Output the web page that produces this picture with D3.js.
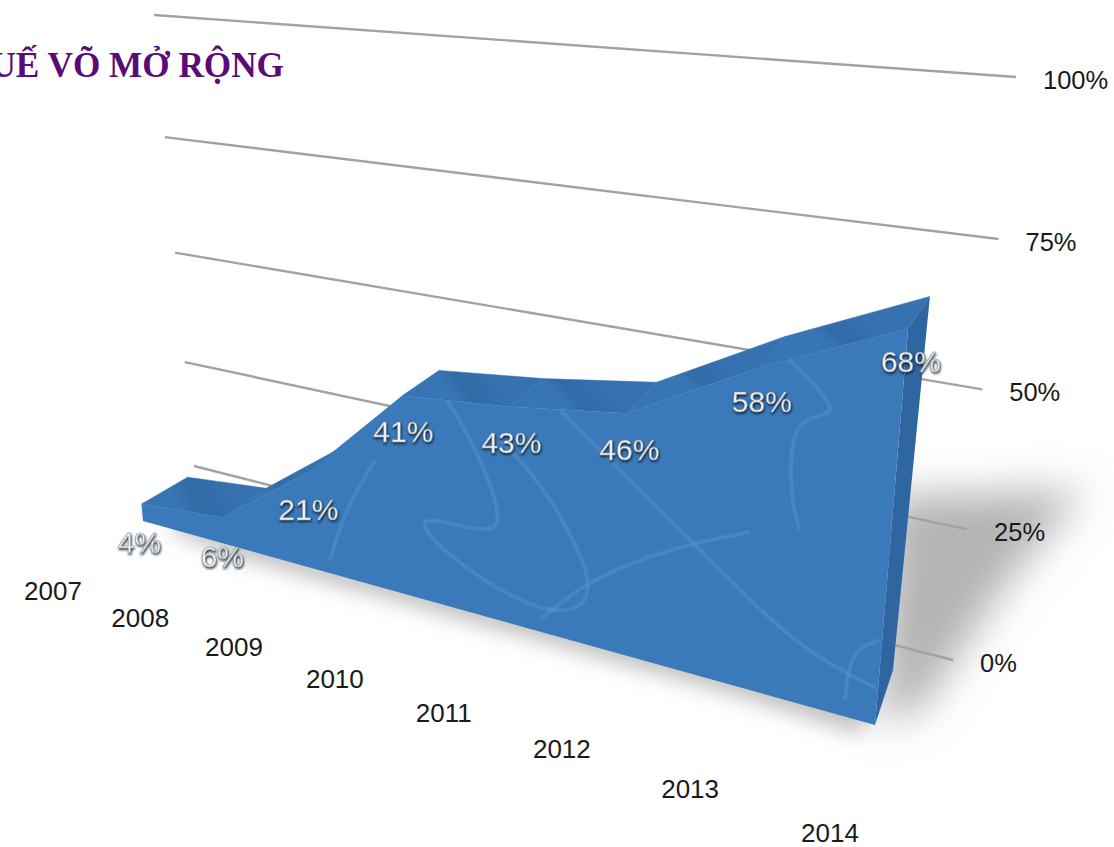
<!DOCTYPE html>
<html lang="vi">
<head>
<meta charset="utf-8">
<script src="https://cdn.jsdelivr.net/npm/d3@7"></script>
<style>
  html, body { margin: 0; padding: 0; background: #fff; overflow: hidden; }
  svg { display: block; }
  text { font-family: "Liberation Sans", Arial, sans-serif; }
</style>
</head>
<body>
<svg id="chart" width="1114" height="847"></svg>
<script>
// Chart data
const years = ["2007", "2008", "2009", "2010", "2011", "2012", "2013", "2014"];
const shares = [4, 6, 21, 41, 43, 46, 58, 68];
const gridTicks = [0, 25, 50, 75, 100];
const chartTitle = "THUẾ VÕ MỞ RỘNG";

// Corners of each perspective plane: bottom-left, bottom-right, top-right, top-left
const frontPlane = [[143, 521], [875, 725], [926, 114], [100, 51]];
const backPlane = [[189, 493], [893, 670], [950, 93], [150, 53]];
const gridPlane = [[194, 466], [953, 660], [1016, 77], [154, 15]];

// Unit-square to quadrilateral projective mapping
function homography([p0, p1, p2, p3]) {
  const dx1 = p1[0] - p2[0], dx2 = p3[0] - p2[0], sx = p0[0] - p1[0] + p2[0] - p3[0];
  const dy1 = p1[1] - p2[1], dy2 = p3[1] - p2[1], sy = p0[1] - p1[1] + p2[1] - p3[1];
  const den = dx1 * dy2 - dx2 * dy1;
  const g = (sx * dy2 - dx2 * sy) / den, h = (dx1 * sy - sx * dy1) / den;
  const a = p1[0] - p0[0] + g * p1[0], b = p3[0] - p0[0] + h * p3[0], c = p0[0];
  const d = p1[1] - p0[1] + g * p1[1], e = p3[1] - p0[1] + h * p3[1], f = p0[1];
  return (u, v) => {
    const w = g * u + h * v + 1;
    return [(a * u + b * v + c) / w, (d * u + e * v + f) / w];
  };
}

const front = homography(frontPlane);
const back = homography(backPlane);
const grid = homography(gridPlane);

const xScale = d3.scalePoint().domain(years).range([0, 1]);
const yScale = d3.scaleLinear().domain([0, 100]).range([0, 1]);

const svg = d3.select("#chart");
const defs = svg.append("defs");
defs.append("filter").attr("id", "softShadow")
  .attr("x", "-40%").attr("y", "-40%").attr("width", "180%").attr("height", "180%")
  .append("feGaussianBlur").attr("stdDeviation", 20);
defs.append("filter").attr("id", "baseShadow")
  .attr("x", "-10%").attr("y", "-40%").attr("width", "120%").attr("height", "180%")
  .append("feGaussianBlur").attr("stdDeviation", 10);
const emboss = defs.append("filter").attr("id", "emboss")
  .attr("x", "-20%").attr("y", "-20%").attr("width", "140%").attr("height", "150%");
emboss.append("feDropShadow").attr("dx", 0.6).attr("dy", 1.6)
  .attr("stdDeviation", 0.8).attr("flood-color", "#0c1520").attr("flood-opacity", 0.95);

const line = d3.line();

// Cast shadow on the floor
const frontBase = years.map(y => front(xScale(y), 0));
svg.append("path")
  .attr("d", line([[890, 495], [1085, 490], [1005, 585], [925, 705], [880, 725]]) + "Z")
  .attr("fill", "#b4b4b4")
  .attr("filter", "url(#softShadow)");
svg.append("path")
  .attr("d", line([[170, 530], ...frontBase.slice(1, -1).map(p => [p[0], p[1] + 10]), [860, 735], [875, 700], [180, 510]]) + "Z")
  .attr("fill", "#c2c2c2")
  .attr("filter", "url(#baseShadow)");

// Gridlines and their percentage labels
const gridGroup = svg.append("g");
gridTicks.forEach(t => {
  const v = yScale(t);
  const a = grid(0, v), b = grid(1, v);
  gridGroup.append("path")
    .attr("d", line([a, b]))
    .attr("stroke", "#a2a2a2").attr("stroke-width", 2.4).attr("fill", "none");
  gridGroup.append("text")
    .attr("x", b[0] + 27).attr("y", b[1] + 12)
    .attr("font-size", 25.5).attr("fill", "#1a1a1a")
    .text(t + "%");
});

// Title, running off the left edge of the page
svg.append("text")
  .attr("x", 284).attr("y", 77)
  .attr("text-anchor", "end")
  .attr("font-size", 35.2).attr("font-weight", 700)
  .attr("fill", "#5a0b78")
  .style("font-family", '"Liberation Serif", serif')
  .text(chartTitle);

// Solid body: top faces first, then the end face, then the front
const frontTop = years.map((y, i) => front(xScale(y), yScale(shares[i])));
const backTop = years.map((y, i) => back(xScale(y), yScale(shares[i])));

const body = svg.append("g");
d3.pairs(d3.range(years.length)).forEach(([i, j]) => {
  // Each face shades from the rear edge towards the front colour
  const midBack = [(backTop[i][0] + backTop[j][0]) / 2, (backTop[i][1] + backTop[j][1]) / 2];
  const midFront = [(frontTop[i][0] + frontTop[j][0]) / 2, (frontTop[i][1] + frontTop[j][1]) / 2];
  const gradient = defs.append("linearGradient").attr("id", `topFace${i}`)
    .attr("gradientUnits", "userSpaceOnUse")
    .attr("x1", midBack[0]).attr("y1", midBack[1])
    .attr("x2", midFront[0]).attr("y2", midFront[1]);
  gradient.append("stop").attr("offset", 0).attr("stop-color", "#3671b0");
  gradient.append("stop").attr("offset", 0.65).attr("stop-color", "#316aa7");
  gradient.append("stop").attr("offset", 1).attr("stop-color", "#3875b5");
  body.append("path")
    .attr("d", line([frontTop[i], frontTop[j], backTop[j], backTop[i]]) + "Z")
    .attr("fill", `url(#topFace${i})`).attr("stroke", "#3470ae").attr("stroke-width", 0.5);
});

const lastU = xScale(years[years.length - 1]);
body.append("path")
  .attr("d", line([front(lastU, 0), frontTop[frontTop.length - 1], backTop[backTop.length - 1], back(lastU, 0)]) + "Z")
  .attr("fill", "#2f65a1");

const frontOutline = line([...frontTop, front(lastU, 0), front(0, 0)]) + "Z";
body.append("path").attr("d", frontOutline).attr("fill", "#3a79ba");

// Pale brush strokes across the front face
const swirls = [
  [[447, 400], [477, 450], [507, 527], [480, 533], [407, 510], [447, 557], [530, 610], [580, 613], [590, 590], [585, 560], [540, 480], [500, 440]],
  [[540, 620], [587, 580], [673, 547], [750, 532]],
  [[560, 410], [650, 500], [720, 570], [800, 650], [880, 690]],
  [[845, 700], [850, 650], [880, 640]],
  [[375, 460], [345, 510], [330, 560]],
  [[790, 360], [850, 420], [790, 410], [790, 500], [800, 530]]
];
defs.append("clipPath").attr("id", "frontClip").append("path").attr("d", frontOutline);
const swirlLine = d3.line().curve(d3.curveBasis);
body.append("g").attr("clip-path", "url(#frontClip)")
  .selectAll("path").data(swirls).join("path")
  .attr("d", swirlLine)
  .attr("fill", "none").attr("stroke", "#6aa0d6").attr("stroke-opacity", 0.32).attr("stroke-width", 4);

// Year labels run on a line below the front edge
const yearX = d3.scaleLinear().domain([143, 875]).range([53, 830]);
const yearY = d3.scaleLinear().domain([521, 725]).range([600, 842]);
svg.append("g").selectAll("text").data(years).join("text")
  .attr("x", (d, i) => yearX(frontBase[i][0]))
  .attr("y", (d, i) => yearY(frontBase[i][1]))
  .attr("text-anchor", "middle")
  .attr("font-size", 26).attr("fill", "#1a1a1a")
  .text(d => d);

// Value labels float below each data point, at mid depth
const labelLift = d3.scaleLinear().domain([0, 100]).range([-11.5, 95.5]);
const labelShift = d3.scaleLinear().domain([0, 1]).range([-20, 0]);
const labelPos = (i) => {
  const u = xScale(years[i]), v = yScale(labelLift(shares[i]));
  const f = front(u, v), b = back(u, v);
  return [f[0] * 0.7 + b[0] * 0.3 + labelShift(u), f[1] * 0.7 + b[1] * 0.3];
};
svg.append("g").selectAll("text").data(shares).join("text")
  .attr("x", (d, i) => labelPos(i)[0])
  .attr("y", (d, i) => labelPos(i)[1] + 11)
  .attr("text-anchor", "middle")
  .attr("font-size", 30)
  .attr("fill", "#eef3f8").attr("stroke", "#7d8790").attr("stroke-width", 0.5)
  .attr("filter", "url(#emboss)")
  .text(d => d + "%");
</script>
</body>
</html>
